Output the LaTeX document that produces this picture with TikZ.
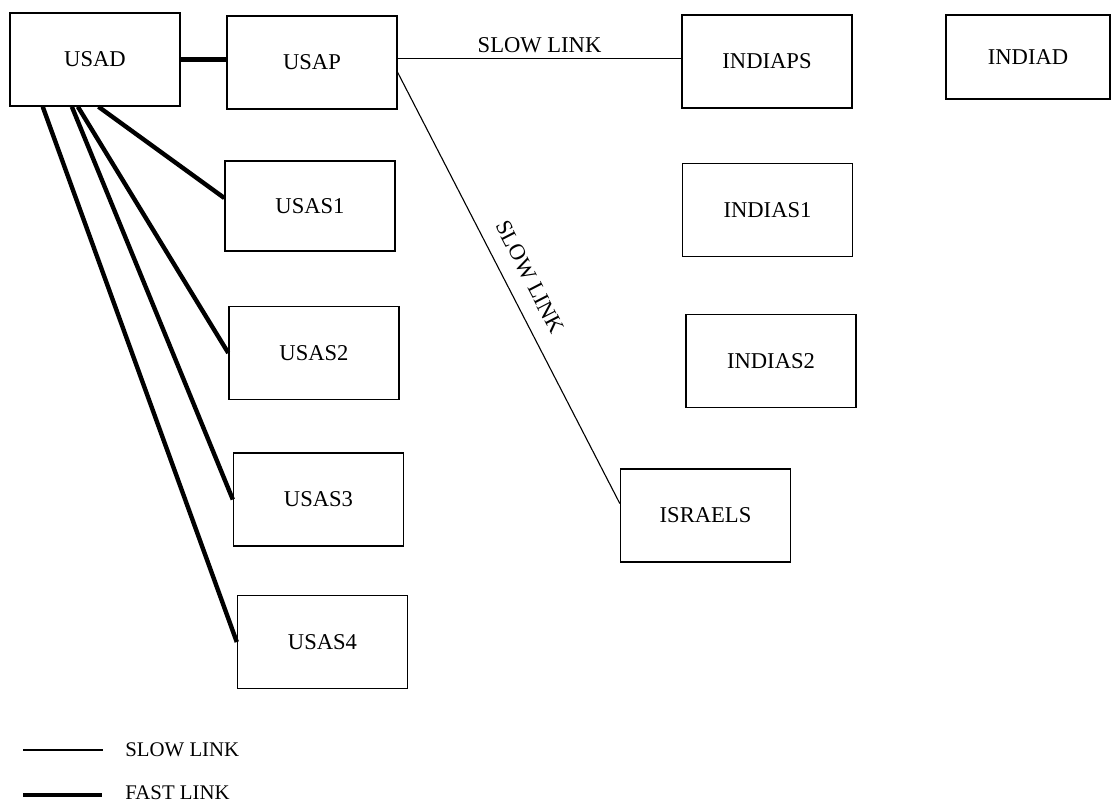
\documentclass[tikz,border=0pt]{standalone}
\usepackage{fontspec}
\setmainfont{Liberation Serif}
\usetikzlibrary{calc,positioning}

\begin{document}
\begin{tikzpicture}[x=0.5pt,y=-0.5pt,font=\fontsize{11.3}{13}\selectfont,
    site/.style={draw,line width=0.7pt,minimum width=85pt,minimum height=46.5pt,inner sep=0pt},
    slowlink/.style={line width=0.55pt},
    fastlink/.style={line width=2.2pt},
    keytext/.style={anchor=west,inner sep=0pt,font=\fontsize{10.4}{12}\selectfont}]
  \useasboundingbox (0,0) rectangle (1111,802);

  % sites
  \node[site] (usad) at (95,59.5) {USAD};
  \node[site] (usap) at (312,62.5) {USAP};
  \node[site] (indiaps) at (767,61.5) {INDIAPS};
  \node[site,minimum width=82pt,minimum height=42pt] (indiad) at (1028,57) {INDIAD};
  \node[site,minimum height=45pt] (usas1) at (310,206) {USAS1};
  \node[site] (usas2) at (314,353) {USAS2};
  \node[site] (usas3) at (318.5,499.5) {USAS3};
  \node[site] (usas4) at (322.5,642) {USAS4};
  \node[site] (indias1) at (767.5,210) {INDIAS1};
  \node[site] (indias2) at (771,361) {INDIAS2};
  \node[site] (israels) at (705.5,515.5) {ISRAELS};

  % fast links
  \draw[fastlink] (usad.east) -- (usad.east -| usap.west);
  \draw[fastlink] ($(usad.south west)!0.52!(usad.south east)$) -- ([yshift=4pt]usas1.west);
  \draw[fastlink] ($(usad.south west)!0.40!(usad.south east)$) -- (usas2.west);
  \draw[fastlink] ($(usad.south west)!0.365!(usad.south east)$) -- (usas3.west);
  \draw[fastlink] ($(usad.south west)!0.195!(usad.south east)$) -- (usas4.west);

  % slow links
  \draw[slowlink] ([yshift=2pt]usap.east) -- ([yshift=2pt]usap.east -| indiaps.west)
    node[midway,above=-1pt] {SLOW LINK};
  \draw[slowlink] ([yshift=-5pt]usap.east) -- ([yshift=6pt]israels.west)
    node[pos=0.5,sloped,above=4.5pt] {SLOW LINK};

  % key
  \node[keytext] (slowkey) at (125,750) {SLOW LINK};
  \node[keytext] (fastkey) at (125,793) {FAST LINK};
  \coordinate (slowend) at (23,750);
  \coordinate (fastend) at (23,795);
  \draw[slowlink] (slowend) -- ([xshift=-11pt]slowkey.west);
  \draw[fastlink] (fastend) -- ([xshift=-11.5pt,yshift=-1pt]fastkey.west);
\end{tikzpicture}
\end{document}
